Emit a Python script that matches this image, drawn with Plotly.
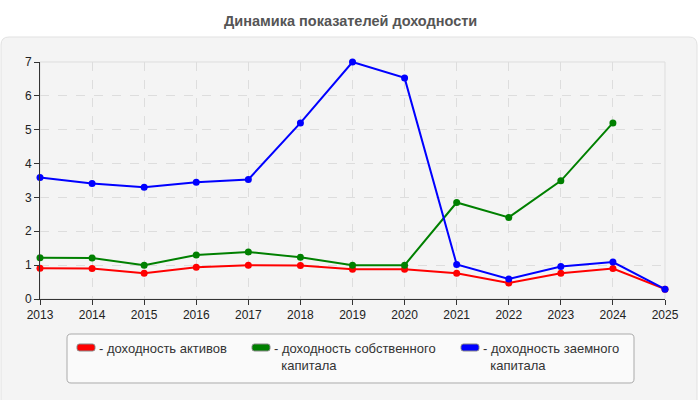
import base64
import plotly.graph_objects as go

years = list(range(2013, 2026))
roa = [0.91, 0.90, 0.76, 0.94, 1.00, 0.99, 0.88, 0.88, 0.76, 0.47, 0.76, 0.90, 0.29]
roe = [1.22, 1.21, 1.00, 1.30, 1.39, 1.23, 1.00, 1.00, 2.85, 2.41, 3.49, 5.20, None]
rod = [3.59, 3.41, 3.30, 3.45, 3.53, 5.20, 7.00, 6.53, 1.02, 0.59, 0.96, 1.09, 0.29]
names = ["- доходность активов", "- доходность собственного<br>\u00a0\u00a0капитала",
         "- доходность заемного<br>\u00a0\u00a0капитала"]
colors = ["#ff0000", "#008000", "#0000ff"]
title = "Динамика показателей доходности"

L, R, T, B = 40, 35, 62, 101
W, H = 700, 400
PW, PH = W - L - R, H - T - B

def px(x):
    return (x - L) / PW

def py(y):
    return (H - B - y) / PH

def rounded(x0, y0, x1, y1, r):
    X = lambda v: f"{px(v):.5f}"
    Y = lambda v: f"{py(v):.5f}"
    return (f"M {X(x0 + r)},{Y(y0)} L {X(x1 - r)},{Y(y0)} Q {X(x1)},{Y(y0)} {X(x1)},{Y(y0 + r)} "
            f"L {X(x1)},{Y(y1 - r)} Q {X(x1)},{Y(y1)} {X(x1 - r)},{Y(y1)} "
            f"L {X(x0 + r)},{Y(y1)} Q {X(x0)},{Y(y1)} {X(x0)},{Y(y1 - r)} "
            f"L {X(x0)},{Y(y0 + r)} Q {X(x0)},{Y(y0)} {X(x0 + r)},{Y(y0)} Z")

# background bands with hatch, as an svg image
bh = PH / 7
rects = []
for i in range(7):
    top = PH - (i + 1) * bh
    fill = "url(#h)" if i % 2 == 0 else "#fdfdf7"
    rects.append(f'<rect x="0" y="{top:.2f}" width="{PW}" height="{bh:.2f}" fill="{fill}"/>')
svg = (f'<svg xmlns="http://www.w3.org/2000/svg" width="{PW}" height="{PH}" viewBox="0 0 {PW} {PH}">'
       '<defs><pattern id="h" width="3" height="3" patternUnits="userSpaceOnUse" patternTransform="rotate(45)">'
       '<rect width="3" height="3" fill="#fbfbfb"/><line x1="0" y1="0" x2="0" y2="3" stroke="#e6e6e6" stroke-width="1"/>'
       '</pattern></defs>' + "".join(rects) + '</svg>')
src = "data:image/svg+xml;base64," + base64.b64encode(svg.encode()).decode()

fig = go.Figure()
for vals, nm, c in zip([roa, roe, rod], names, colors):
    fig.add_trace(go.Scatter(x=years, y=vals, name=nm, mode="lines+markers",
                             line=dict(color=c, width=2), marker=dict(color=c, size=7),
                             showlegend=False, connectgaps=False, cliponaxis=False))

shapes = []
shapes.append(dict(type="path", xref="paper", yref="paper", path=rounded(1, 37, 697, 420, 8),
                   fillcolor="#f4f4f4", line=dict(color="#e2e2e2", width=1), layer="below"))
shapes.append(dict(type="rect", xref="paper", yref="paper", x0=0, x1=1, y0=0, y1=1,
                   fillcolor="rgba(0,0,0,0)", line=dict(color="#dddddd", width=1), layer="below"))
shapes.append(dict(type="path", xref="paper", yref="paper", path=rounded(67, 334, 634, 383, 4),
                   fillcolor="#fafafa", line=dict(color="#aaaaaa", width=1), layer="below"))

annotations = [dict(text="<b>" + title + "</b>", xref="paper", yref="paper", x=px(350), y=py(21),
                    xanchor="center", yanchor="middle", showarrow=False,
                    font=dict(size=14.5, color="#555555", family="Arial"))]
sym_x = [77, 252, 461]
for sx, nm, c in zip(sym_x, names, colors):
    shapes.append(dict(type="path", xref="paper", yref="paper", path=rounded(sx, 344, sx + 18, 351, 2.5),
                       fillcolor=c, line=dict(color="#888888", width=1)))
    annotations.append(dict(text=nm, xref="paper", yref="paper", x=px(sx + 20), y=py(339),
                            xanchor="left", yanchor="top", showarrow=False, align="left",
                            font=dict(size=13, color="#333333", family="Arial")))

fig.update_layout(
    width=W, height=H, margin=dict(l=L, r=R, t=T, b=B),
    paper_bgcolor="white", plot_bgcolor="rgba(0,0,0,0)",
    shapes=shapes, annotations=annotations,
    images=[dict(source=src, xref="paper", yref="paper", x=0, y=1, sizex=1, sizey=1,
                 sizing="stretch", xanchor="left", yanchor="top", layer="below")],
    font=dict(family="Arial", size=12, color="#222222"),
)
fig.update_xaxes(range=[2013, 2025], tickvals=years, showline=True, linecolor="#333333", linewidth=1,
                 ticks="outside", ticklen=5, tickcolor="#333333", showgrid=True, gridcolor="#dddddd",
                 griddash="dash", zeroline=False, mirror=False)
fig.update_yaxes(range=[0, 7], dtick=1, showline=True, linecolor="#333333", linewidth=1,
                 ticks="outside", ticklen=5, tickcolor="#333333", showgrid=True, gridcolor="#dddddd",
                 griddash="dash", zeroline=False)
fig.write_html("out.html")
